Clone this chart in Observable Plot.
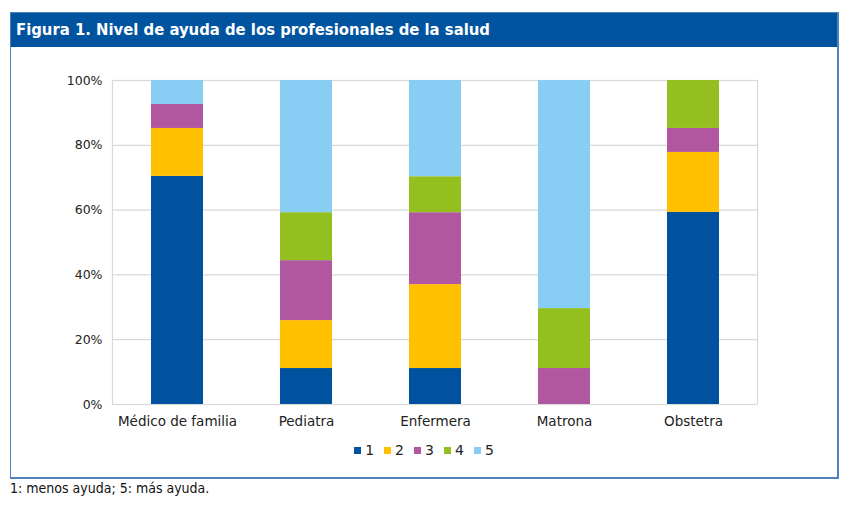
<!DOCTYPE html>
<html>
<head>
<meta charset="utf-8">
<script src="https://cdn.jsdelivr.net/npm/d3@7"></script>
<script src="https://cdn.jsdelivr.net/npm/@observablehq/plot@0.6"></script>
<style>
  body { margin: 0; background: #fff; width: 850px; height: 510px; position: relative; font-family: "DejaVu Sans", sans-serif; }
  #frame { position: absolute; left: 10px; top: 12px; width: 826px; height: 464px; border: 1px solid #4f81bd; border-width: 1px 2px 2px 1px; background: #fff; }
  #title { position: absolute; left: 0; top: 0; width: 826px; height: 34px; background: #00539f; color: #fff; font-family: "DejaVu Sans Condensed", "DejaVu Sans", sans-serif; font-weight: bold; font-size: 16.5px; line-height: 34px; padding-left: 5px; box-sizing: border-box; }
  #chart { position: absolute; left: 0; top: 34px; }
  #legend { position: absolute; left: 0; top: 429px; width: 826px; text-align: center; font-size: 14px; color: #222; }
  #legend span.item { display: inline-block; margin: 0 5px; }
  #legend span.sw { display: inline-block; width: 7px; height: 7px; margin-right: 4px; vertical-align: 1px; }
  #caption { position: absolute; left: 10px; top: 480px; font-family: "DejaVu Sans Condensed", "DejaVu Sans", sans-serif; font-size: 14px; color: #111; }
</style>
</head>
<body>
<div id="frame">
  <div id="title">Figura 1. Nivel de ayuda de los profesionales de la salud</div>
  <div id="chart"></div>
  <div id="legend"></div>
</div>
<div id="caption">1: menos ayuda; 5: más ayuda.</div>
<script>
const categories = ["Médico de familia", "Pediatra", "Enfermera", "Matrona", "Obstetra"];
const levels = ["1", "2", "3", "4", "5"];
const colors = ["#00529f", "#ffc000", "#b0579f", "#93c01f", "#87cdf4"];
// percentage per category for each level
const level1 = [70.4, 11.1, 11.1, 0, 59.3];
const level2 = [14.8, 14.8, 25.9, 0, 18.5];
const level3 = [7.4, 18.5, 22.2, 11.1, 7.4];
const level4 = [0, 14.8, 11.1, 18.5, 14.8];
const level5 = [7.4, 40.8, 29.7, 70.4, 0];
const yTicks = [0, 20, 40, 60, 80, 100];

const series = [level1, level2, level3, level4, level5];
const data = [];
categories.forEach((c, i) => {
  levels.forEach((l, j) => {
    data.push({ cat: c, level: l, value: series[j][i] });
  });
});

const chart = Plot.plot({
  width: 826,
  height: 387,
  marginLeft: 101,
  marginRight: 80,
  marginTop: 33,
  marginBottom: 30,
  style: { fontFamily: "DejaVu Sans, sans-serif", fontSize: "12.5px", color: "#222", background: "#fff" },
  x: { domain: categories, paddingInner: 0.6, paddingOuter: 0.3, label: null },
  y: { domain: [0, 100], label: null },
  color: { domain: levels, range: colors },
  marks: [
    Plot.gridY(yTicks, { stroke: "#d9d9d9", strokeOpacity: 1, strokeWidth: 1.2 }),
    Plot.frame({ stroke: "#d9d9d9", strokeWidth: 1.2 }),
    Plot.barY(data, Plot.stackY({ x: "cat", y: "value", fill: "level", order: levels })),
    Plot.axisX({ tickSize: 0, tickPadding: 12, fontSize: 13.5 }),
    Plot.axisY({ ticks: yTicks, tickFormat: d => d + "%", tickSize: 0, tickPadding: 10, fontSize: 12.5 })
  ]
});
document.getElementById("chart").appendChild(chart);

const leg = document.getElementById("legend");
levels.forEach((l, j) => {
  const s = document.createElement("span");
  s.className = "item";
  s.innerHTML = `<span class="sw" style="background:${colors[j]}"></span>${l}`;
  leg.appendChild(s);
});
</script>
</body>
</html>
